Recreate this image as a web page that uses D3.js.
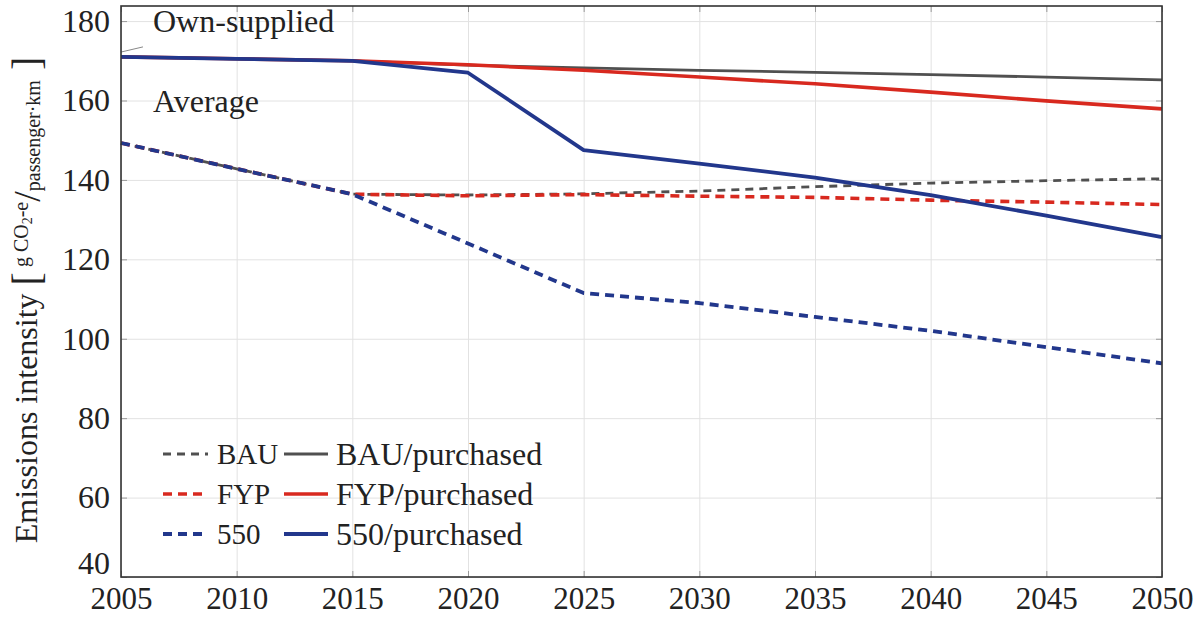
<!DOCTYPE html>
<html>
<head>
<meta charset="utf-8">
<script src="https://cdn.jsdelivr.net/npm/d3@7"></script>
<style>
  body { margin: 0; background: #fff; }
  svg text { font-family: 'Liberation Serif', 'DejaVu Serif', serif; fill: #222; }
</style>
</head>
<body>
<svg id="chart" width="1203" height="617"></svg>
<script>
// Years on the x axis
const years = [2005, 2010, 2015, 2020, 2025, 2030, 2035, 2040, 2045, 2050];

// Average (dashed) series
const bau = [149.3, 142.8, 136.4, 136.2, 136.5, 137.2, 138.3, 139.2, 139.8, 140.3];
const fyp = [149.3, 142.8, 136.4, 136.0, 136.3, 135.9, 135.6, 134.9, 134.4, 133.8];
const s550 = [149.3, 142.8, 136.4, 124.0, 111.5, 109.0, 105.5, 102.0, 97.9, 93.8];

// Own-supplied / purchased (solid) series
const bauPurchased = [171.0, 170.5, 170.0, 168.9, 168.2, 167.6, 167.1, 166.5, 165.9, 165.2];
const fypPurchased = [171.0, 170.5, 170.0, 169.0, 167.6, 165.9, 164.2, 162.1, 159.9, 157.9];
const s550Purchased = [171.0, 170.5, 170.0, 167.0, 147.5, 144.1, 140.6, 136.2, 131.0, 125.6];

// Tick values
const xTicks = [2005, 2010, 2015, 2020, 2025, 2030, 2035, 2040, 2045, 2050];
const yTicks = [40, 60, 80, 100, 120, 140, 160, 180];

// Legend labels
const legendRows = [
    ['BAU', 'BAU/purchased'],
    ['FYP', 'FYP/purchased'],
    ['550', '550/purchased']
];

const colors = { gray: '#505050', red: '#d8291f', blue: '#22378c' };

const svg = d3.select('#chart');
const margin = { top: 6, right: 41, bottom: 40, left: 121 };
const width = +svg.attr('width') - margin.left - margin.right;
const height = +svg.attr('height') - margin.top - margin.bottom;

const xScale = d3.scaleLinear().domain([2005, 2050]).range([0, width]);
const yScale = d3.scaleLinear().domain([40, 183.8]).range([height, 0]);

const g = svg.append('g').attr('transform', `translate(${margin.left},${margin.top})`);

// Grid lines
g.append('g')
    .attr('transform', `translate(0,${height})`)
    .call(d3.axisBottom(xScale).tickValues(xTicks).tickSize(-height).tickFormat(''))
    .call(a => a.select('.domain').remove())
    .selectAll('line').attr('stroke', '#e2e2e2').attr('stroke-width', 1);
g.append('g')
    .call(d3.axisLeft(yScale).tickValues(yTicks).tickSize(-width).tickFormat(''))
    .call(a => a.select('.domain').remove())
    .selectAll('line').attr('stroke', '#e2e2e2').attr('stroke-width', 1);

// Inner tick marks on all four sides
const tickLen = 6;
g.append('g').attr('transform', `translate(0,${height})`)
    .call(d3.axisBottom(xScale).tickValues(xTicks).tickSize(-tickLen).tickFormat(''))
    .call(a => a.select('.domain').remove())
    .selectAll('line').attr('stroke', '#999');
g.append('g')
    .call(d3.axisTop(xScale).tickValues(xTicks).tickSize(-tickLen).tickFormat(''))
    .call(a => a.select('.domain').remove())
    .selectAll('line').attr('stroke', '#999');
g.append('g')
    .call(d3.axisLeft(yScale).tickValues(yTicks).tickSize(-tickLen).tickFormat(''))
    .call(a => a.select('.domain').remove())
    .selectAll('line').attr('stroke', '#999');
g.append('g').attr('transform', `translate(${width},0)`)
    .call(d3.axisRight(yScale).tickValues(yTicks).tickSize(-tickLen).tickFormat(''))
    .call(a => a.select('.domain').remove())
    .selectAll('line').attr('stroke', '#999');

// Tick labels
const xAxis = g.append('g')
    .attr('transform', `translate(0,${height})`)
    .call(d3.axisBottom(xScale).tickValues(xTicks).tickSize(0).tickPadding(10).tickFormat(d3.format('d')));
xAxis.select('.domain').remove();
xAxis.selectAll('text')
    .attr('font-size', 31)
    .attr('fill', '#222');

const yAxis = g.append('g')
    .call(d3.axisLeft(yScale).tickValues(yTicks).tickSize(0).tickPadding(11));
yAxis.select('.domain').remove();
yAxis.selectAll('text')
    .attr('font-size', 32)
    .attr('fill', '#222');
// nudge the bottom-most y label up so it clears the 2005 label
yAxis.selectAll('.tick').filter(d => d === 40).select('text').attr('dy', '-0.1em');

// Lines
const series = [
    { values: bau, color: colors.gray, dash: '8,6', w: 2.8 },
    { values: bauPurchased, color: colors.gray, dash: null, w: 2.8 },
    { values: fyp, color: colors.red, dash: '9,6', w: 3.6 },
    { values: fypPurchased, color: colors.red, dash: null, w: 3.6 },
    { values: s550, color: colors.blue, dash: '9,6', w: 3.8 },
    { values: s550Purchased, color: colors.blue, dash: null, w: 3.8 }
];

const line = d3.line()
    .x(d => xScale(d[0]))
    .y(d => yScale(d[1]));

series.forEach(s => {
    g.append('path')
        .datum(years.map((y, i) => [y, s.values[i]]))
        .attr('fill', 'none')
        .attr('stroke', s.color)
        .attr('stroke-width', s.w)
        .attr('stroke-dasharray', s.dash)
        .attr('stroke-linejoin', 'round')
        .attr('d', line);
});

// Small pointer line near the Own-supplied label
g.append('line')
    .attr('x1', xScale(2005)).attr('y1', yScale(172.2))
    .attr('x2', xScale(2005.95)).attr('y2', yScale(173.5))
    .attr('stroke', '#888').attr('stroke-width', 1);

// Annotations
g.append('text').attr('x', 32).attr('y', 26).attr('font-size', 32).text('Own-supplied');
g.append('text').attr('x', 32).attr('y', 106).attr('font-size', 32).text('Average');

// Frame
g.append('rect')
    .attr('width', width).attr('height', height)
    .attr('fill', 'none').attr('stroke', '#333').attr('stroke-width', 1.6);

// Legend
const legendStyles = [
    [series[0], series[1]],
    [series[2], series[3]],
    [series[4], series[5]]
];
const legend = svg.append('g');
legendRows.forEach((row, i) => {
    const cy = 454 + i * 40;
    const [ds, ss] = legendStyles[i];
    legend.append('line')
        .attr('x1', 163).attr('x2', 208).attr('y1', cy).attr('y2', cy)
        .attr('stroke', ds.color).attr('stroke-width', ds.w).attr('stroke-dasharray', ds.dash);
    legend.append('text')
        .attr('x', 217).attr('y', cy).attr('dy', '0.33em')
        .attr('font-size', 29).text(row[0]);
    legend.append('line')
        .attr('x1', 284).attr('x2', 328).attr('y1', cy).attr('y2', cy)
        .attr('stroke', ss.color).attr('stroke-width', ss.w);
    legend.append('text')
        .attr('x', 336).attr('y', cy).attr('dy', '0.33em')
        .attr('font-size', 32).text(row[1]);
});

// Y axis label
const yLabel = svg.append('text')
    .attr('transform', 'translate(37,300) rotate(-90)')
    .attr('text-anchor', 'middle');
yLabel.append('tspan').attr('font-size', 32).text('Emissions intensity ');
yLabel.append('tspan').attr('font-size', 40).attr('dy', 3).text('[');
yLabel.append('tspan').attr('font-size', 20).attr('dy', -12).text(' g CO');
yLabel.append('tspan').attr('font-size', 14).attr('dy', 4).text('2');
yLabel.append('tspan').attr('font-size', 20).attr('dy', -4).text('-e');
yLabel.append('tspan').attr('font-size', 38).attr('dy', 12).text('/');
yLabel.append('tspan').attr('font-size', 20).attr('dy', 0).text('passenger\u00b7km');
yLabel.append('tspan').attr('font-size', 40).attr('dy', 0).text(' ]');
</script>
</body>
</html>
